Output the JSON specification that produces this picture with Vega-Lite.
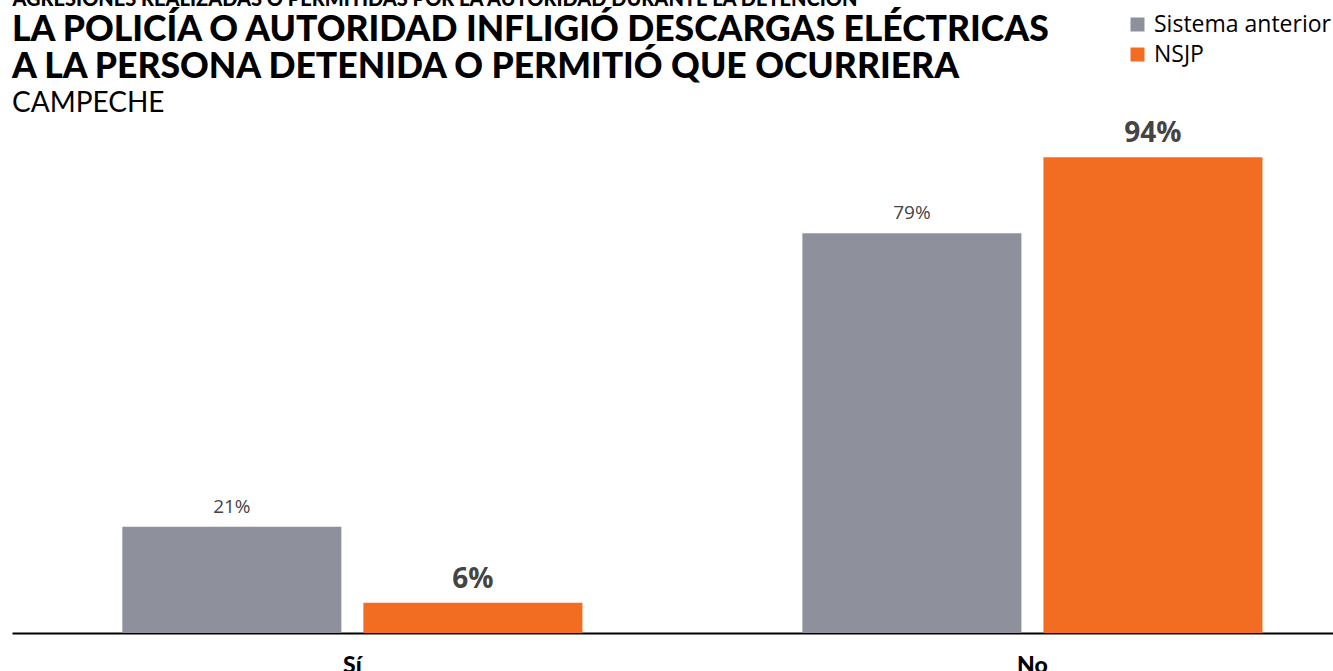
{
  "$schema": "https://vega.github.io/schema/vega-lite/v6.json",
  "autosize": {"type": "none"},
  "width": 1321,
  "height": 506,
  "padding": {"left": 12, "top": 127, "right": 0, "bottom": 38},
  "background": "white",
  "config": {"view": {"stroke": null}},
  "title": {
    "text": ["LA POLICÍA O AUTORIDAD INFLIGIÓ DESCARGAS ELÉCTRICAS", "A LA PERSONA DETENIDA O PERMITIÓ QUE OCURRIERA"],
    "subtitle": "CAMPECHE",
    "anchor": "start",
    "font": "Lato",
    "fontSize": 35.5,
    "fontWeight": 900,
    "color": "#000000",
    "lineHeight": 37,
    "subtitleFont": "Lato",
    "subtitleFontSize": 28,
    "subtitleFontWeight": 400,
    "subtitleColor": "#000000",
    "subtitlePadding": 4,
    "offset": -128.5
  },
  "data": {
    "values": [
      {"respuesta": "Sí", "sistema": "Sistema anterior", "valor": 21, "etiqueta": "21%"},
      {"respuesta": "Sí", "sistema": "NSJP", "valor": 6, "etiqueta": "6%"},
      {"respuesta": "No", "sistema": "Sistema anterior", "valor": 79, "etiqueta": "79%"},
      {"respuesta": "No", "sistema": "NSJP", "valor": 94, "etiqueta": "94%"}
    ]
  },
  "encoding": {
    "x": {
      "field": "respuesta",
      "type": "nominal",
      "sort": ["Sí", "No"],
      "scale": {"paddingInner": 0.3235, "paddingOuter": 0.133, "align": 0.61},
      "axis": {
        "title": null,
        "orient": "bottom",
        "domain": true,
        "domainColor": "#000000",
        "domainWidth": 2,
        "ticks": false,
        "labelAngle": 0,
        "labelFont": "Lato",
        "labelFontWeight": 900,
        "labelFontSize": 23,
        "labelColor": "#000000",
        "labelPadding": 21
      }
    },
    "xOffset": {
      "field": "sistema",
      "type": "nominal",
      "sort": ["Sistema anterior", "NSJP"],
      "scale": {"paddingInner": 0.0913, "paddingOuter": 0}
    },
    "y": {
      "field": "valor",
      "type": "quantitative",
      "scale": {"domain": [0, 100], "nice": false, "zero": true},
      "axis": {
        "title": "AGRESIONES REALIZADAS O PERMITIDAS POR LA AUTORIDAD DURANTE LA DETENCIÓN",
        "titleAngle": 0,
        "titleAlign": "left",
        "titleBaseline": "alphabetic",
        "titleX": 0,
        "titleY": -122,
        "titleFont": "Lato",
        "titleFontSize": 20,
        "titleFontWeight": 900,
        "titleColor": "#000000",
        "titleLimit": 1200,
        "domain": false,
        "ticks": false,
        "labels": false,
        "grid": false
      }
    }
  },
  "layer": [
    {
      "mark": {"type": "bar"},
      "encoding": {
        "color": {
          "field": "sistema",
          "type": "nominal",
          "sort": ["Sistema anterior", "NSJP"],
          "scale": {"domain": ["Sistema anterior", "NSJP"], "range": ["#8e919c", "#f26d21"]},
          "legend": {
            "title": null,
            "orient": "none",
            "legendX": 1114,
            "legendY": -114,
            "symbolType": "square",
            "symbolSize": 196,
            "symbolStrokeWidth": 0,
            "labelFont": "Open Sans",
            "labelFontSize": 23,
            "labelColor": "#000000",
            "labelOffset": 5,
            "labelLimit": 300,
            "rowPadding": 6,
            "padding": 0
          }
        }
      }
    },
    {
      "transform": [{"filter": "datum.sistema === 'Sistema anterior'"}],
      "mark": {"type": "text", "font": "Open Sans", "fontSize": 19, "color": "#444444", "baseline": "alphabetic", "dy": -14},
      "encoding": {"text": {"field": "etiqueta"}}
    },
    {
      "transform": [{"filter": "datum.sistema === 'NSJP'"}],
      "mark": {"type": "text", "font": "Open Sans", "fontSize": 28, "fontWeight": 700, "color": "#444444", "baseline": "alphabetic", "dy": -15},
      "encoding": {"text": {"field": "etiqueta"}}
    }
  ]
}
